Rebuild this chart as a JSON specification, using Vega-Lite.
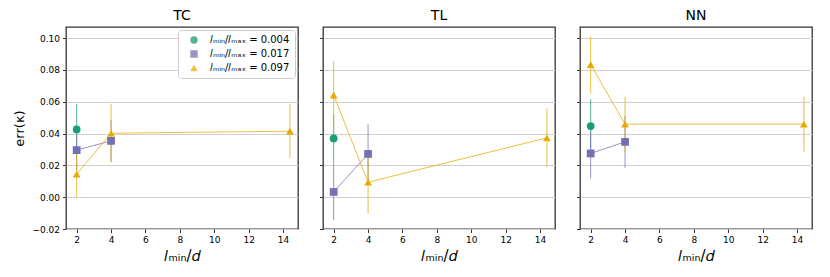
{
  "$schema": "https://vega.github.io/schema/vega-lite/v6.json",
  "padding": {"left": 13, "top": 8, "right": 4, "bottom": 2},
  "background": "white",
  "datasets": {
    "pts": [
      {"panel": "TC", "ratio": "𝑙ₘᵢₙ/𝑙ₘₐₓ = 0.004", "x": 2, "y": 0.0426, "lo": 0.0268, "hi": 0.0585},
      {"panel": "TC", "ratio": "𝑙ₘᵢₙ/𝑙ₘₐₓ = 0.017", "x": 2, "y": 0.0296, "lo": 0.0166, "hi": 0.0426},
      {"panel": "TC", "ratio": "𝑙ₘᵢₙ/𝑙ₘₐₓ = 0.017", "x": 4, "y": 0.0354, "lo": 0.0224, "hi": 0.0484},
      {"panel": "TC", "ratio": "𝑙ₘᵢₙ/𝑙ₘₐₓ = 0.097", "x": 2, "y": 0.0145, "lo": 0.0, "hi": 0.0290},
      {"panel": "TC", "ratio": "𝑙ₘᵢₙ/𝑙ₘₐₓ = 0.097", "x": 4, "y": 0.0402, "lo": 0.0218, "hi": 0.0588},
      {"panel": "TC", "ratio": "𝑙ₘᵢₙ/𝑙ₘₐₓ = 0.097", "x": 14.4, "y": 0.0415, "lo": 0.0245, "hi": 0.0588},
      {"panel": "TL", "ratio": "𝑙ₘᵢₙ/𝑙ₘₐₓ = 0.004", "x": 2, "y": 0.0369, "lo": 0.0212, "hi": 0.0526},
      {"panel": "TL", "ratio": "𝑙ₘᵢₙ/𝑙ₘₐₓ = 0.017", "x": 2, "y": 0.0033, "lo": -0.0145, "hi": 0.0211},
      {"panel": "TL", "ratio": "𝑙ₘᵢₙ/𝑙ₘₐₓ = 0.017", "x": 4, "y": 0.0272, "lo": 0.0085, "hi": 0.0459},
      {"panel": "TL", "ratio": "𝑙ₘᵢₙ/𝑙ₘₐₓ = 0.097", "x": 2, "y": 0.0642, "lo": 0.0427, "hi": 0.0857},
      {"panel": "TL", "ratio": "𝑙ₘᵢₙ/𝑙ₘₐₓ = 0.097", "x": 4, "y": 0.0094, "lo": -0.0103, "hi": 0.0291},
      {"panel": "TL", "ratio": "𝑙ₘᵢₙ/𝑙ₘₐₓ = 0.097", "x": 14.4, "y": 0.0373, "lo": 0.0190, "hi": 0.0558},
      {"panel": "NN", "ratio": "𝑙ₘᵢₙ/𝑙ₘₐₓ = 0.004", "x": 2, "y": 0.0447, "lo": 0.0280, "hi": 0.0616},
      {"panel": "NN", "ratio": "𝑙ₘᵢₙ/𝑙ₘₐₓ = 0.017", "x": 2, "y": 0.0275, "lo": 0.0118, "hi": 0.0432},
      {"panel": "NN", "ratio": "𝑙ₘᵢₙ/𝑙ₘₐₓ = 0.017", "x": 4, "y": 0.0348, "lo": 0.0184, "hi": 0.0512},
      {"panel": "NN", "ratio": "𝑙ₘᵢₙ/𝑙ₘₐₓ = 0.097", "x": 2, "y": 0.0834, "lo": 0.0652, "hi": 0.1010},
      {"panel": "NN", "ratio": "𝑙ₘᵢₙ/𝑙ₘₐₓ = 0.097", "x": 4, "y": 0.0459, "lo": 0.0285, "hi": 0.0631},
      {"panel": "NN", "ratio": "𝑙ₘᵢₙ/𝑙ₘₐₓ = 0.097", "x": 14.4, "y": 0.0459, "lo": 0.0285, "hi": 0.0631}
    ]
  },
  "data": {"name": "pts"},
  "spacing": 19,
  "resolve": {"scale": {"color": "independent", "shape": "independent"}, "legend": {"color": "independent", "shape": "independent"}},
  "hconcat": [
    {
      "width": 232, "height": 202,
      "title": {"text": "TC"},
      "transform": [{"filter": "datum.panel === 'TC'"}],
      "encoding": {
        "x": {"field": "x", "type": "quantitative", "scale": {"domain": [1.38, 14.87], "nice": false, "zero": false}, "axis": {"values": [2, 4, 6, 8, 10, 12, 14], "format": "d", "title": "𝑙ₘᵢₙ/𝑑"}},
        "y": {"field": "y", "type": "quantitative", "scale": {"domain": [-0.02, 0.107], "nice": false, "zero": false}, "axis": {"values": [-0.02, 0, 0.02, 0.04, 0.06, 0.08, 0.1], "format": ".2f", "title": "err(κ)", "labelOverlap": false, "tickCount": 7}},
        "color": {"field": "ratio", "type": "nominal", "scale": {"domain": ["𝑙ₘᵢₙ/𝑙ₘₐₓ = 0.004", "𝑙ₘᵢₙ/𝑙ₘₐₓ = 0.017", "𝑙ₘᵢₙ/𝑙ₘₐₓ = 0.097"], "range": ["#1b9e77", "#7570b3", "#e6ab02"]}, "legend": {"title": null, "orient": "top-right", "offset": 3}}
      },
      "layer": [
        {"mark": {"type": "rule", "strokeWidth": 1, "opacity": 0.75},
         "encoding": {"y": {"field": "lo", "type": "quantitative", "scale": {"domain": [-0.02, 0.107], "nice": false, "zero": false}, "axis": {"values": [-0.02, 0, 0.02, 0.04, 0.06, 0.08, 0.1], "format": ".2f", "title": "err(κ)", "labelOverlap": false, "tickCount": 7}}, "y2": {"field": "hi"}}},
        {"mark": {"type": "line", "strokeWidth": 1, "opacity": 0.75}, "encoding": {}},
        {"mark": {"type": "point", "filled": true, "opacity": 1, "size": 60},
         "encoding": {
           "shape": {"field": "ratio", "type": "nominal", "scale": {"domain": ["𝑙ₘᵢₙ/𝑙ₘₐₓ = 0.004", "𝑙ₘᵢₙ/𝑙ₘₐₓ = 0.017", "𝑙ₘᵢₙ/𝑙ₘₐₓ = 0.097"], "range": ["circle", "square", "triangle-up"]}, "legend": {"title": null, "orient": "top-right", "offset": 3}}}}
      ]
    },
    {
      "width": 232, "height": 202,
      "title": {"text": "TL"},
      "transform": [{"filter": "datum.panel === 'TL'"}],
      "encoding": {
        "x": {"field": "x", "type": "quantitative", "scale": {"domain": [1.38, 14.87], "nice": false, "zero": false}, "axis": {"values": [2, 4, 6, 8, 10, 12, 14], "format": "d", "title": "𝑙ₘᵢₙ/𝑑"}},
        "y": {"field": "y", "type": "quantitative", "scale": {"domain": [-0.02, 0.107], "nice": false, "zero": false}, "axis": {"values": [-0.02, 0, 0.02, 0.04, 0.06, 0.08, 0.1], "labels": false, "title": null, "tickCount": 7}},
        "color": {"field": "ratio", "type": "nominal", "scale": {"domain": ["𝑙ₘᵢₙ/𝑙ₘₐₓ = 0.004", "𝑙ₘᵢₙ/𝑙ₘₐₓ = 0.017", "𝑙ₘᵢₙ/𝑙ₘₐₓ = 0.097"], "range": ["#1b9e77", "#7570b3", "#e6ab02"]}, "legend": null}
      },
      "layer": [
        {"mark": {"type": "rule", "strokeWidth": 1, "opacity": 0.75},
         "encoding": {"y": {"field": "lo", "type": "quantitative", "scale": {"domain": [-0.02, 0.107], "nice": false, "zero": false}, "axis": {"values": [-0.02, 0, 0.02, 0.04, 0.06, 0.08, 0.1], "labels": false, "title": null, "tickCount": 7}}, "y2": {"field": "hi"}}},
        {"mark": {"type": "line", "strokeWidth": 1, "opacity": 0.75}, "encoding": {}},
        {"mark": {"type": "point", "filled": true, "opacity": 1, "size": 60},
         "encoding": {
           "shape": {"field": "ratio", "type": "nominal", "scale": {"domain": ["𝑙ₘᵢₙ/𝑙ₘₐₓ = 0.004", "𝑙ₘᵢₙ/𝑙ₘₐₓ = 0.017", "𝑙ₘᵢₙ/𝑙ₘₐₓ = 0.097"], "range": ["circle", "square", "triangle-up"]}, "legend": null}}}
      ]
    },
    {
      "width": 232, "height": 202,
      "title": {"text": "NN"},
      "transform": [{"filter": "datum.panel === 'NN'"}],
      "encoding": {
        "x": {"field": "x", "type": "quantitative", "scale": {"domain": [1.38, 14.87], "nice": false, "zero": false}, "axis": {"values": [2, 4, 6, 8, 10, 12, 14], "format": "d", "title": "𝑙ₘᵢₙ/𝑑"}},
        "y": {"field": "y", "type": "quantitative", "scale": {"domain": [-0.02, 0.107], "nice": false, "zero": false}, "axis": {"values": [-0.02, 0, 0.02, 0.04, 0.06, 0.08, 0.1], "labels": false, "title": null, "tickCount": 7}},
        "color": {"field": "ratio", "type": "nominal", "scale": {"domain": ["𝑙ₘᵢₙ/𝑙ₘₐₓ = 0.004", "𝑙ₘᵢₙ/𝑙ₘₐₓ = 0.017", "𝑙ₘᵢₙ/𝑙ₘₐₓ = 0.097"], "range": ["#1b9e77", "#7570b3", "#e6ab02"]}, "legend": null}
      },
      "layer": [
        {"mark": {"type": "rule", "strokeWidth": 1, "opacity": 0.75},
         "encoding": {"y": {"field": "lo", "type": "quantitative", "scale": {"domain": [-0.02, 0.107], "nice": false, "zero": false}, "axis": {"values": [-0.02, 0, 0.02, 0.04, 0.06, 0.08, 0.1], "labels": false, "title": null, "tickCount": 7}}, "y2": {"field": "hi"}}},
        {"mark": {"type": "line", "strokeWidth": 1, "opacity": 0.75}, "encoding": {}},
        {"mark": {"type": "point", "filled": true, "opacity": 1, "size": 60},
         "encoding": {
           "shape": {"field": "ratio", "type": "nominal", "scale": {"domain": ["𝑙ₘᵢₙ/𝑙ₘₐₓ = 0.004", "𝑙ₘᵢₙ/𝑙ₘₐₓ = 0.017", "𝑙ₘᵢₙ/𝑙ₘₐₓ = 0.097"], "range": ["circle", "square", "triangle-up"]}, "legend": null}}}
      ]
    }
  ],
  "config": {
    "font": "DejaVu Sans",
    "view": {"stroke": "#333333", "strokeWidth": 1.3},
    "title": {"font": "DejaVu Sans", "fontSize": 14, "fontWeight": "normal", "color": "black", "offset": 4},
    "axis": {"domain": false, "tickColor": "#333333", "tickSize": 3.5, "tickWidth": 1, "labelFont": "DejaVu Sans", "labelFontSize": 9, "labelColor": "black", "labelPadding": 3, "titleFont": "DejaVu Sans", "titleFontWeight": "normal", "titleColor": "black", "titleFontSize": 14},
    "axisX": {"grid": false, "titlePadding": 4, "titleFontSize": 15},
    "axisY": {"grid": true, "gridColor": "#d0d0d0", "gridWidth": 1.2, "titlePadding": 5, "titleFontSize": 13},
    "legend": {"labelFont": "DejaVu Sans", "labelFontSize": 10, "labelColor": "black", "fillColor": "white", "strokeColor": "#cccccc", "cornerRadius": 3, "padding": 5, "rowPadding": 4, "symbolSize": 55, "symbolStrokeWidth": 0, "symbolOffset": 6, "labelOffset": 11, "labelLimit": 200}
  }
}
